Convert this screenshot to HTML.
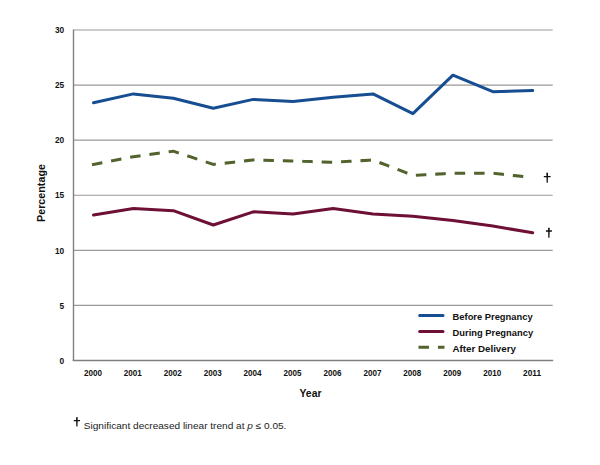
<!DOCTYPE html>
<html><head><meta charset="utf-8"><style>
html,body{margin:0;padding:0;background:#fff;}
body{width:600px;height:465px;overflow:hidden;}
svg{display:block;font-family:"Liberation Sans",sans-serif;}
</style></head><body>
<svg width="600" height="465" viewBox="0 0 600 465">
<rect width="600" height="465" fill="#fff"/>
<line x1="73.5" y1="305.42" x2="552.7" y2="305.42" stroke="#999999" stroke-width="1.1"/>
<line x1="73.5" y1="250.33" x2="552.7" y2="250.33" stroke="#999999" stroke-width="1.1"/>
<line x1="73.5" y1="195.25" x2="552.7" y2="195.25" stroke="#999999" stroke-width="1.1"/>
<line x1="73.5" y1="140.17" x2="552.7" y2="140.17" stroke="#999999" stroke-width="1.1"/>
<line x1="73.5" y1="85.08" x2="552.7" y2="85.08" stroke="#999999" stroke-width="1.1"/>
<line x1="73.5" y1="30.00" x2="552.7" y2="30.00" stroke="#999999" stroke-width="1.1"/>
<line x1="73.5" y1="29.50" x2="73.5" y2="361.00" stroke="#808080" stroke-width="1.4"/>
<line x1="72.8" y1="360.50" x2="553.2" y2="360.50" stroke="#808080" stroke-width="1.4"/>
<g font-size="8.3" font-weight="bold" fill="#111" text-anchor="end">
<text x="64.2" y="363.70">0</text>
<text x="64.2" y="308.62">5</text>
<text x="64.2" y="253.53">10</text>
<text x="64.2" y="198.45">15</text>
<text x="64.2" y="143.37">20</text>
<text x="64.2" y="88.28">25</text>
<text x="64.2" y="33.20">30</text>
</g>
<g font-size="8.4" font-weight="bold" fill="#111" text-anchor="middle">
<text x="92.9" y="375.6" textLength="18" lengthAdjust="spacingAndGlyphs">2000</text>
<text x="132.8" y="375.6" textLength="18" lengthAdjust="spacingAndGlyphs">2001</text>
<text x="172.7" y="375.6" textLength="18" lengthAdjust="spacingAndGlyphs">2002</text>
<text x="212.7" y="375.6" textLength="18" lengthAdjust="spacingAndGlyphs">2003</text>
<text x="252.6" y="375.6" textLength="18" lengthAdjust="spacingAndGlyphs">2004</text>
<text x="292.5" y="375.6" textLength="18" lengthAdjust="spacingAndGlyphs">2005</text>
<text x="332.5" y="375.6" textLength="18" lengthAdjust="spacingAndGlyphs">2006</text>
<text x="372.4" y="375.6" textLength="18" lengthAdjust="spacingAndGlyphs">2007</text>
<text x="412.3" y="375.6" textLength="18" lengthAdjust="spacingAndGlyphs">2008</text>
<text x="452.3" y="375.6" textLength="18" lengthAdjust="spacingAndGlyphs">2009</text>
<text x="492.2" y="375.6" textLength="18" lengthAdjust="spacingAndGlyphs">2010</text>
<text x="532.1" y="375.6" textLength="18" lengthAdjust="spacingAndGlyphs">2011</text>
</g>
<text x="310.5" y="397.2" font-size="10.5" font-weight="bold" fill="#111" text-anchor="middle" textLength="22" lengthAdjust="spacingAndGlyphs">Year</text>
<text transform="translate(44.9,222) rotate(-90)" x="0" y="0" font-size="10.5" font-weight="bold" fill="#111" textLength="58" lengthAdjust="spacingAndGlyphs">Percentage</text>
<polyline points="93.5,102.7 133.4,93.9 173.3,98.3 213.3,108.2 253.2,99.4 293.1,101.6 333.1,97.2 373.0,93.9 412.9,113.7 452.9,75.2 492.8,91.7 532.7,90.6" fill="none" stroke="#174d91" stroke-width="3" stroke-linejoin="round" stroke-linecap="round"/>
<polyline points="93.5,215.1 133.4,208.5 173.3,210.7 213.3,225.0 253.2,211.8 293.1,214.0 333.1,208.5 373.0,214.0 412.9,216.2 452.9,220.6 492.8,226.1 532.7,232.7" fill="none" stroke="#6e0f36" stroke-width="3" stroke-linejoin="round" stroke-linecap="round"/>
<polyline points="93.5,164.4 133.4,156.7 173.3,151.2 213.3,164.4 253.2,160.0 293.1,161.1 333.1,162.2 373.0,160.0 412.9,175.4 452.9,173.2 492.8,173.2 532.7,177.6" fill="none" stroke="#52632d" stroke-width="3" stroke-linejoin="round" stroke-dasharray="7.5 11.93" stroke-linecap="square"/>
<path d="M546.35 172.80L548.05 172.80L547.80 182.70L546.60 182.70Z M543.80 175.95H550.60V177.25H543.80Z" fill="#111"/>
<path d="M548.05 227.80L549.75 227.80L549.50 237.80L548.30 237.80Z M545.90 230.35H551.90V231.65H545.90Z" fill="#111"/>
<line x1="419.7" y1="315.5" x2="443" y2="315.5" stroke="#174d91" stroke-width="3" stroke-linecap="round"/>
<line x1="419.7" y1="331.5" x2="443" y2="331.5" stroke="#6e0f36" stroke-width="3" stroke-linecap="round"/>
<line x1="420" y1="347.3" x2="443" y2="347.3" stroke="#52632d" stroke-width="3" stroke-linecap="square" stroke-dasharray="7.5 11.93"/>
<g font-size="9.2" font-weight="bold" fill="#111">
<text x="452.6" y="319.8" textLength="80" lengthAdjust="spacingAndGlyphs">Before Pregnancy</text>
<text x="452.6" y="335.8" textLength="80.5" lengthAdjust="spacingAndGlyphs">During Pregnancy</text>
<text x="452.6" y="351.8" textLength="63.3" lengthAdjust="spacingAndGlyphs">After Delivery</text>
</g>
<path d="M76.05 417.20L77.75 417.20L77.50 426.60L76.30 426.60Z M73.80 419.95H80.00V421.25H73.80Z" fill="#111"/>
<text x="83.8" y="428.5" font-size="9" fill="#222" textLength="202.6" lengthAdjust="spacingAndGlyphs">Significant decreased linear trend at <tspan font-style="italic">p</tspan> ≤ 0.05.</text>
</svg>
</body></html>
